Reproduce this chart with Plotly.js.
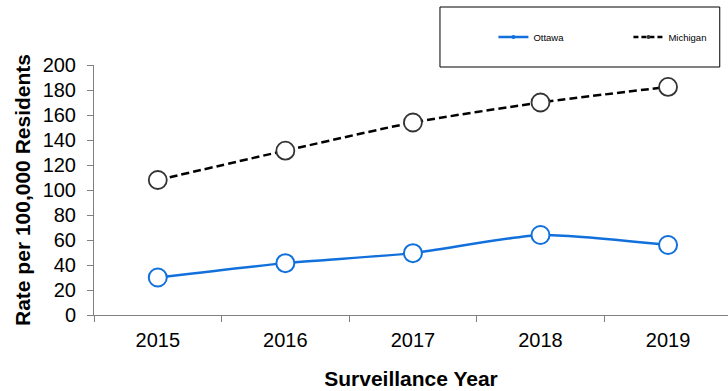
<!DOCTYPE html>
<html><head><meta charset="utf-8">
<script src="https://cdn.plot.ly/plotly-3.0.1.min.js"></script>
<style>html,body{margin:0;padding:0;background:#fff}#chart{width:728px;height:391px}</style>
</head><body><div id="chart"></div>
<script>
const years = ['2015','2016','2017','2018','2019'];
const ottawa = [30, 41.5, 49.5, 64, 56];
const michigan = [108, 131.5, 154, 170, 182.5];
const seriesNames = ['Ottawa', 'Michigan'];
const yTicks = [0,20,40,60,80,100,120,140,160,180,200];

const blue = '#1170dc';
const dark = '#333333';
const traces = [
  {x: years, y: ottawa, type:'scatter', mode:'lines+markers', showlegend:false,
   line:{color:blue, width:2.5, shape:'spline', smoothing:0.6},
   marker:{symbol:'circle', size:18, color:'#fff', line:{color:blue, width:2}}},
  {x: years, y: michigan, type:'scatter', mode:'lines+markers', showlegend:false,
   line:{color:'#000', width:2.5, dash:'8px,4px', shape:'spline', smoothing:0.6},
   marker:{symbol:'circle', size:18, color:'#fff', line:{color:dark, width:1.8}}},
  {x: years, y: years.map(()=>null), type:'scatter', mode:'lines+markers', name: seriesNames[0],
   line:{color:blue, width:2.5}, marker:{size:4, color:blue}},
  {x: years, y: years.map(()=>null), type:'scatter', mode:'lines+markers', name: seriesNames[1],
   line:{color:'#000', width:2.5, dash:'5px,3px'}, marker:{size:4, color:'#333'}}
];

const layout = {
  width:728, height:391,
  margin:{l:94, r:0, t:65, b:76, autoexpand:false},
  paper_bgcolor:'#fff', plot_bgcolor:'#fff',
  font:{family:'Liberation Sans, Arial, sans-serif', color:'#000'},
  xaxis:{type:'category', range:[-0.5, 4.47], tickson:'boundaries',
    ticks:'outside', ticklen:6, tickcolor:'#808080', showgrid:false, zeroline:false,
    showline:true, linecolor:'#808080', linewidth:1, ticklabelstandoff:7,
    tickfont:{size:20}, title:{text:'<b>Surveillance Year</b>', font:{size:21}, standoff:21}},
  yaxis:{range:[0,200], tickvals:yTicks, ticks:'outside', ticklen:6, tickcolor:'#808080',
    showgrid:false, zeroline:false, showline:true, linecolor:'#808080', linewidth:1,
    ticklabelstandoff:7,
    tickfont:{size:20}, title:{text:'<b>Rate per 100,000 Residents</b>', font:{size:21}, standoff:6}},
  legend:{orientation:'h', x:0.63, xanchor:'left', y:1.112, yanchor:'middle',
    font:{size:9.5}, bgcolor:'rgba(0,0,0,0)', borderwidth:0, entrywidth:90},
  shapes:[{type:'rect', xref:'paper', yref:'paper', x0:0.5457, x1:0.987, y0:0.992, y1:1.232,
    line:{color:'#000', width:1}, fillcolor:'rgba(0,0,0,0)'}]
};
Plotly.newPlot('chart', traces, layout, {displayModeBar:false, staticPlot:true});
</script></body></html>
